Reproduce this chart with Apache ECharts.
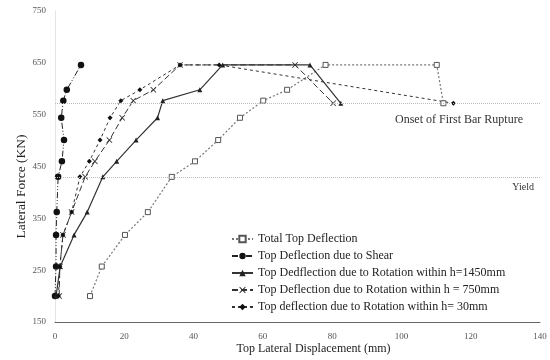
<!DOCTYPE html>
<html><head><meta charset="utf-8">
<script src="https://cdn.jsdelivr.net/npm/echarts@6/dist/echarts.min.js"></script>
<style>html,body{margin:0;padding:0;background:#fff}#c{width:550px;height:360px}</style>
</head><body><div id="c"></div>
<script>
// Force levels (kN)
const forceTotal = [200,257,318,362,430,460,501,544,577,598,646,646,572];
const forceShear = [200,257,318,362,430,460,501,544,577,598,646];
const force1450  = [200,257,318,362,430,460,501,544,577,598,646,646,572];
const force750   = [200,257,318,362,430,460,501,544,577,598,646,646,572];
const force30    = [200,257,318,362,430,460,501,544,577,598,646,646,572];
// Displacements (mm)
const dispTotal = [10.1,13.5,20.2,26.8,33.7,40.4,47.1,53.4,60.1,67.0,78.1,110.2,112.1];
const dispShear = [0,0.3,0.3,0.5,0.9,2.0,2.6,1.8,2.4,3.4,7.5];
const disp1450  = [0.3,1.5,5.5,9.3,13.8,17.8,23.4,29.6,31.1,41.8,48.4,73.6,82.5];
const disp750   = [1.2,1.4,2.3,4.8,8.7,11.5,15.7,19.4,22.6,28.4,36.1,69.3,80.3];
const disp30    = [1.0,1.4,2.3,4.8,7.2,9.9,13.0,15.9,19.0,24.5,36.1,47.4,115.0];
const names = [
  'Total Top Deflection',
  'Top Deflection due to Shear',
  'Top Dedflection due to Rotation within h=1450mm',
  'Top Deflection due to Rotation within h = 750mm',
  'Top deflection due to Rotation within h= 30mm'
];
const yieldForce = 430, ruptureForce = 572;
const xTicks = [0,20,40,60,80,100,120,140];
const yTicks = [150,250,350,450,550,650,750];

const pair = (xs, ys) => xs.map((x, i) => [x, ys[i]]);
const serif = 'Liberation Serif';
const crossPath = 'path://M0,1L1,0L5,4L9,0L10,1L6,5L10,9L9,10L5,6L1,10L0,9L4,5Z';

const chart = echarts.init(document.getElementById('c'), null, {renderer: 'canvas'});
chart.setOption({
  animation: false,
  backgroundColor: '#fff',
  grid: {left: 55, right: 10, top: 11, bottom: 36},
  legend: {
    orient: 'vertical', left: 226, top: 228,
    itemWidth: 21, itemHeight: 8, itemGap: 5,
    textStyle: {fontFamily: serif, fontSize: 12, color: '#222'},
    data: names
  },
  xAxis: {
    type: 'value', min: 0, max: 140, interval: 20,
    name: 'Top Lateral Displacement (mm)', nameLocation: 'middle', nameGap: 21,
    nameMoveOverlap: false,
    nameTextStyle: {fontFamily: serif, fontSize: 12, color: '#222', padding: [0, 0, 0, 32]},
    axisLine: {lineStyle: {color: '#666', width: 1}},
    axisTick: {show: false},
    splitLine: {show: false},
    axisLabel: {fontFamily: serif, fontSize: 9, color: '#555', margin: 10,
      formatter: v => xTicks.includes(v) ? String(v) : ''}
  },
  yAxis: {
    type: 'value', min: 150, max: 750, interval: 100,
    name: 'Lateral Force (KN)', nameLocation: 'middle', nameGap: 27,
    nameMoveOverlap: false,
    nameTextStyle: {fontFamily: serif, fontSize: 13.5, color: '#222', padding: [0, 40, 0, 0]},
    axisLine: {show: true, lineStyle: {color: '#e4e4e4', width: 1}},
    axisTick: {show: false},
    splitLine: {show: false},
    axisLabel: {fontFamily: serif, fontSize: 9, color: '#555', margin: 9,
      formatter: v => yTicks.includes(v) ? String(v) : ''}
  },
  series: [
    {
      name: names[0], type: 'line', data: pair(dispTotal, forceTotal),
      symbol: 'rect', symbolSize: 5,
      lineStyle: {color: '#777', width: 1.2, type: [2, 2]},
      itemStyle: {color: '#fff', borderColor: '#555', borderWidth: 1},
      markLine: {
        silent: true, symbol: 'none',
        lineStyle: {color: '#bdbdbd', width: 1, type: [1, 1]},
        data: [
          {yAxis: ruptureForce, label: {show: true, formatter: 'Onset of First Bar Rupture',
            position: 'insideEndBottom', distance: [17, 11], fontFamily: serif, fontSize: 12, color: '#333'}},
          {yAxis: yieldForce, label: {show: true, formatter: 'Yield',
            position: 'insideEndBottom', distance: [6, 6], fontFamily: serif, fontSize: 10, color: '#333'}}
        ]
      }
    },
    {
      name: names[1], type: 'line', data: pair(dispShear, forceShear),
      symbol: 'circle', symbolSize: 6.5,
      lineStyle: {color: '#222', width: 1, type: [6, 2, 1, 2, 1, 2]},
      itemStyle: {color: '#111'}
    },
    {
      name: names[2], type: 'line', data: pair(disp1450, force1450),
      symbol: 'triangle', symbolSize: 5,
      lineStyle: {color: '#333', width: 1.2, type: 'solid'},
      itemStyle: {color: '#222'}
    },
    {
      name: names[3], type: 'line', data: pair(disp750, force750),
      symbol: crossPath, symbolSize: 6,
      lineStyle: {color: '#333', width: 1, type: [6, 3]},
      itemStyle: {color: '#333'}
    },
    {
      name: names[4], type: 'line', data: pair(disp30, force30),
      symbol: 'diamond', symbolSize: 5,
      lineStyle: {color: '#333', width: 1, type: [3, 3]},
      itemStyle: {color: '#111'}
    }
  ]
});
</script></body></html>
